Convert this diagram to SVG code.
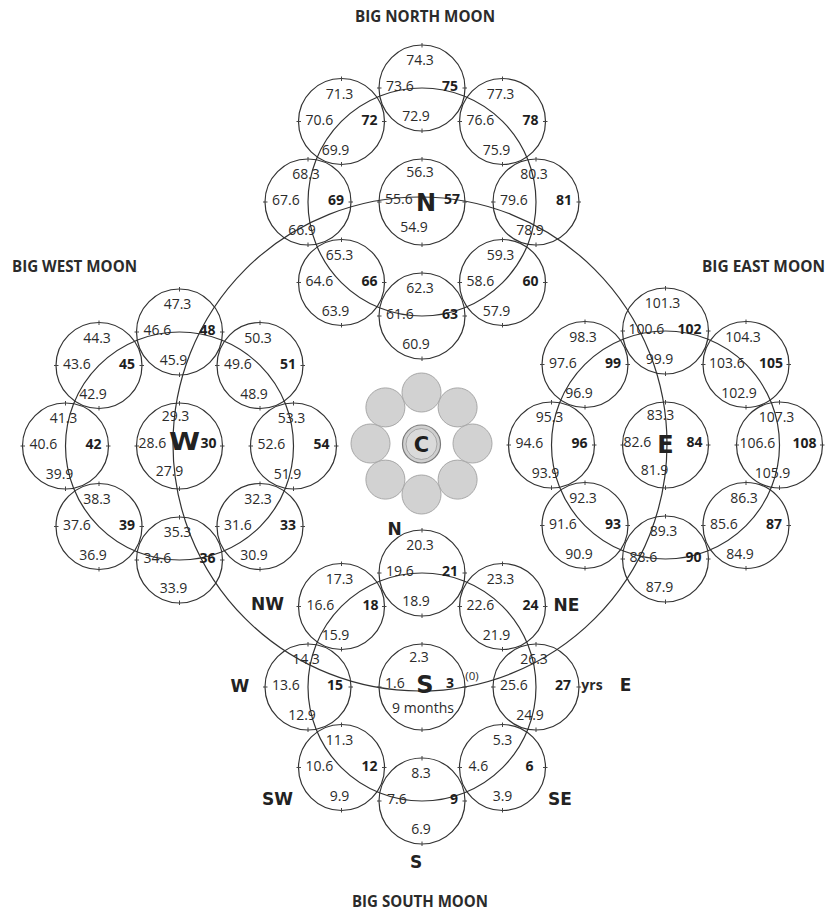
<svg xmlns="http://www.w3.org/2000/svg" xmlns:xlink="http://www.w3.org/1999/xlink" width="826" height="911" viewBox="0 0 826 911">
<style>
.c{fill:none;stroke:#333;stroke-width:1.2}
.k{fill:none;stroke:#444;stroke-width:1}
.t{font-family:"Open Sans","Liberation Sans",sans-serif;font-size:14px;fill:#2b2b2b}
.m{text-anchor:middle}
.s{text-anchor:start}
.b{text-anchor:end;font-weight:bold;fill:#1e1e1e}
.big{font-family:"DejaVu Sans",sans-serif;font-weight:bold;font-size:24px;text-anchor:middle;fill:#222}
.dir{font-family:"DejaVu Sans",sans-serif;font-weight:bold;font-size:17px;text-anchor:middle;fill:#222}
.title{font-family:"Open Sans","Liberation Sans",sans-serif;font-weight:bold;font-size:15.5px;text-anchor:middle;fill:#2b2b2b}
.g{fill:#d2d2d2;stroke:#a8a8a8;stroke-width:1}
</style>
<defs>
<g id="sc"><circle r="43" class="c"/><path class="k" d="M0,-45V-40.5M0,40.5V45M-45,0H-40.5M40.5,0H45"/></g>
</defs>
<rect width="826" height="911" fill="#fff"/>

<g id="connectors" class="c">
<circle cx="422" cy="202" r="114"/>
<circle cx="179.5" cy="446" r="114"/>
<circle cx="665.5" cy="445" r="114"/>
<circle cx="422" cy="687" r="114"/>
<circle cx="420" cy="444" r="247"/>
</g>

<g id="titles">
<text class="title" x="425" y="22" textLength="140" lengthAdjust="spacingAndGlyphs">BIG NORTH MOON</text>
<text class="title" x="74.5" y="272" textLength="125" lengthAdjust="spacingAndGlyphs">BIG WEST MOON</text>
<text class="title" x="763.5" y="272" textLength="123" lengthAdjust="spacingAndGlyphs">BIG EAST MOON</text>
<text class="title" x="420" y="907" textLength="136" lengthAdjust="spacingAndGlyphs">BIG SOUTH MOON</text>
</g>

<!-- NORTH MOON -->
<g id="n57" transform="translate(422,202)"><use xlink:href="#sc"/><text class="t m" x="-2" y="-25">56.3</text><text class="t s" x="-37" y="2">55.6</text><text class="t b" x="38" y="2">57</text><text class="t m" x="-8" y="30">54.9</text><text class="big" x="4" y="9">N</text></g>
<g id="n60" transform="translate(502.5,282.5)"><use xlink:href="#sc"/><text class="t m" x="-2" y="-23">59.3</text><text class="t s" x="-36" y="3">58.6</text><text class="t b" x="36" y="3">60</text><text class="t m" x="-6" y="33">57.9</text></g>
<g id="n63" transform="translate(422,316)"><use xlink:href="#sc"/><text class="t m" x="-2" y="-23">62.3</text><text class="t s" x="-36" y="3">61.6</text><text class="t b" x="36" y="3">63</text><text class="t m" x="-6" y="33">60.9</text></g>
<g id="n66" transform="translate(341.5,282.5)"><use xlink:href="#sc"/><text class="t m" x="-2" y="-23">65.3</text><text class="t s" x="-36" y="3">64.6</text><text class="t b" x="36" y="3">66</text><text class="t m" x="-6" y="33">63.9</text></g>
<g id="n69" transform="translate(308,202)"><use xlink:href="#sc"/><text class="t m" x="-2" y="-23">68.3</text><text class="t s" x="-36" y="3">67.6</text><text class="t b" x="36" y="3">69</text><text class="t m" x="-6" y="33">66.9</text></g>
<g id="n72" transform="translate(341.5,121.5)"><use xlink:href="#sc"/><text class="t m" x="-2" y="-23">71.3</text><text class="t s" x="-36" y="3">70.6</text><text class="t b" x="36" y="3">72</text><text class="t m" x="-6" y="33">69.9</text></g>
<g id="n75" transform="translate(422,88)"><use xlink:href="#sc"/><text class="t m" x="-2" y="-23">74.3</text><text class="t s" x="-36" y="3">73.6</text><text class="t b" x="36" y="3">75</text><text class="t m" x="-6" y="33">72.9</text></g>
<g id="n78" transform="translate(502.5,121.5)"><use xlink:href="#sc"/><text class="t m" x="-2" y="-23">77.3</text><text class="t s" x="-36" y="3">76.6</text><text class="t b" x="36" y="3">78</text><text class="t m" x="-6" y="33">75.9</text></g>
<g id="n81" transform="translate(536,202)"><use xlink:href="#sc"/><text class="t m" x="-2" y="-23">80.3</text><text class="t s" x="-36" y="3">79.6</text><text class="t b" x="36" y="3">81</text><text class="t m" x="-6" y="33">78.9</text></g>

<!-- WEST MOON -->
<g id="n30" transform="translate(179.5,446)"><use xlink:href="#sc"/><text class="t m" x="-4" y="-25">29.3</text><text class="t s" x="-41" y="2">28.6</text><text class="t b" x="37" y="2">30</text><text class="t m" x="-10" y="30">27.9</text><text class="big" x="5" y="4" textLength="31" lengthAdjust="spacingAndGlyphs">W</text></g>
<g id="n33" transform="translate(260,526.5)"><use xlink:href="#sc"/><text class="t m" x="-2" y="-23">32.3</text><text class="t s" x="-36" y="3">31.6</text><text class="t b" x="36" y="3">33</text><text class="t m" x="-6" y="33">30.9</text></g>
<g id="n36" transform="translate(179.5,560)"><use xlink:href="#sc"/><text class="t m" x="-2" y="-23">35.3</text><text class="t s" x="-36" y="3">34.6</text><text class="t b" x="36" y="3">36</text><text class="t m" x="-6" y="33">33.9</text></g>
<g id="n39" transform="translate(99,526.5)"><use xlink:href="#sc"/><text class="t m" x="-2" y="-23">38.3</text><text class="t s" x="-36" y="3">37.6</text><text class="t b" x="36" y="3">39</text><text class="t m" x="-6" y="33">36.9</text></g>
<g id="n42" transform="translate(65.5,446)"><use xlink:href="#sc"/><text class="t m" x="-2" y="-23">41.3</text><text class="t s" x="-36" y="3">40.6</text><text class="t b" x="36" y="3">42</text><text class="t m" x="-6" y="33">39.9</text></g>
<g id="n45" transform="translate(99,365.5)"><use xlink:href="#sc"/><text class="t m" x="-2" y="-23">44.3</text><text class="t s" x="-36" y="3">43.6</text><text class="t b" x="36" y="3">45</text><text class="t m" x="-6" y="33">42.9</text></g>
<g id="n48" transform="translate(179.5,332)"><use xlink:href="#sc"/><text class="t m" x="-2" y="-23">47.3</text><text class="t s" x="-36" y="3">46.6</text><text class="t b" x="36" y="3">48</text><text class="t m" x="-6" y="33">45.9</text></g>
<g id="n51" transform="translate(260,365.5)"><use xlink:href="#sc"/><text class="t m" x="-2" y="-23">50.3</text><text class="t s" x="-36" y="3">49.6</text><text class="t b" x="36" y="3">51</text><text class="t m" x="-6" y="33">48.9</text></g>
<g id="n54" transform="translate(293.5,446)"><use xlink:href="#sc"/><text class="t m" x="-2" y="-23">53.3</text><text class="t s" x="-36" y="3">52.6</text><text class="t b" x="36" y="3">54</text><text class="t m" x="-6" y="33">51.9</text></g>

<!-- EAST MOON -->
<g id="n84" transform="translate(665.5,445)"><use xlink:href="#sc"/><text class="t m" x="-5" y="-25">83.3</text><text class="t s" x="-42" y="2">82.6</text><text class="t b" x="37" y="2">84</text><text class="t m" x="-11" y="30">81.9</text><text class="big" x="0" y="8">E</text></g>
<g id="n87" transform="translate(746,525.5)"><use xlink:href="#sc"/><text class="t m" x="-2" y="-23">86.3</text><text class="t s" x="-36" y="3">85.6</text><text class="t b" x="36" y="3">87</text><text class="t m" x="-6" y="33">84.9</text></g>
<g id="n90" transform="translate(665.5,559)"><use xlink:href="#sc"/><text class="t m" x="-2" y="-23">89.3</text><text class="t s" x="-36" y="3">88.6</text><text class="t b" x="36" y="3">90</text><text class="t m" x="-6" y="33">87.9</text></g>
<g id="n93" transform="translate(585,525.5)"><use xlink:href="#sc"/><text class="t m" x="-2" y="-23">92.3</text><text class="t s" x="-36" y="3">91.6</text><text class="t b" x="36" y="3">93</text><text class="t m" x="-6" y="33">90.9</text></g>
<g id="n96" transform="translate(551.5,445)"><use xlink:href="#sc"/><text class="t m" x="-2" y="-23">95.3</text><text class="t s" x="-36" y="3">94.6</text><text class="t b" x="36" y="3">96</text><text class="t m" x="-6" y="33">93.9</text></g>
<g id="n99" transform="translate(585,364.5)"><use xlink:href="#sc"/><text class="t m" x="-2" y="-23">98.3</text><text class="t s" x="-36" y="3">97.6</text><text class="t b" x="36" y="3">99</text><text class="t m" x="-6" y="33">96.9</text></g>
<g id="n102" transform="translate(665.5,331)"><use xlink:href="#sc"/><text class="t m" x="-3" y="-23">101.3</text><text class="t s" x="-37" y="3">100.6</text><text class="t b" x="36" y="3">102</text><text class="t m" x="-6" y="33">99.9</text></g>
<g id="n105" transform="translate(746,364.5)"><use xlink:href="#sc"/><text class="t m" x="-3" y="-23">104.3</text><text class="t s" x="-37" y="3">103.6</text><text class="t b" x="37" y="3">105</text><text class="t m" x="-7" y="33">102.9</text></g>
<g id="n108" transform="translate(779.5,445)"><use xlink:href="#sc"/><text class="t m" x="-3" y="-23">107.3</text><text class="t s" x="-40" y="3">106.6</text><text class="t b" x="37" y="3">108</text><text class="t m" x="-7" y="33">105.9</text></g>

<!-- SOUTH MOON -->
<g id="n3" transform="translate(422,687)"><use xlink:href="#sc"/><text class="t m" x="-3" y="-25">2.3</text><text class="t s" x="-37" y="1">1.6</text><text class="t b" x="32" y="1">3</text><text class="t m" x="1" y="26">9 months</text><text class="big" x="3" y="6">S</text><text class="t m" x="50" y="-7" style="font-size:11.5px">(0)</text></g>
<g id="n6" transform="translate(502.5,767.5)"><use xlink:href="#sc"/><text class="t m" x="0" y="-23">5.3</text><text class="t s" x="-34" y="3">4.6</text><text class="t b" x="31" y="3">6</text><text class="t m" x="0" y="33">3.9</text></g>
<g id="n9" transform="translate(422,801)"><use xlink:href="#sc"/><text class="t m" x="-1" y="-23">8.3</text><text class="t s" x="-35" y="3">7.6</text><text class="t b" x="36" y="3">9</text><text class="t m" x="-1" y="33">6.9</text></g>
<g id="n12" transform="translate(341.5,767.5)"><use xlink:href="#sc"/><text class="t m" x="-2" y="-23">11.3</text><text class="t s" x="-36" y="3">10.6</text><text class="t b" x="36" y="3">12</text><text class="t m" x="-2" y="33">9.9</text></g>
<g id="n15" transform="translate(308,687)"><use xlink:href="#sc"/><text class="t m" x="-2" y="-23">14.3</text><text class="t s" x="-36" y="3">13.6</text><text class="t b" x="35" y="3">15</text><text class="t m" x="-6" y="33">12.9</text></g>
<g id="n18" transform="translate(341.5,606.5)"><use xlink:href="#sc"/><text class="t m" x="-2" y="-23">17.3</text><text class="t s" x="-35" y="3">16.6</text><text class="t b" x="37" y="3">18</text><text class="t m" x="-6" y="33">15.9</text></g>
<g id="n21" transform="translate(422,573)"><use xlink:href="#sc"/><text class="t m" x="-2" y="-23">20.3</text><text class="t s" x="-36" y="3">19.6</text><text class="t b" x="36" y="3">21</text><text class="t m" x="-6" y="33">18.9</text></g>
<g id="n24" transform="translate(502.5,606.5)"><use xlink:href="#sc"/><text class="t m" x="-2" y="-23">23.3</text><text class="t s" x="-36" y="3">22.6</text><text class="t b" x="36" y="3">24</text><text class="t m" x="-6" y="33">21.9</text></g>
<g id="n27" transform="translate(536,687)"><use xlink:href="#sc"/><text class="t m" x="-2" y="-23">26.3</text><text class="t s" x="-36" y="3">25.6</text><text class="t b" x="35" y="3">27</text><text class="t m" x="-6" y="33">24.9</text><text class="t m" x="56" y="3" style="font-weight:bold">yrs</text></g>

<!-- CENTRE -->
<g id="centre">
<circle class="g" cx="472.5" cy="443.5" r="19.5"/>
<circle class="g" cx="457.6" cy="479.6" r="19.5"/>
<circle class="g" cx="421.5" cy="494.5" r="19.5"/>
<circle class="g" cx="385.4" cy="479.6" r="19.5"/>
<circle class="g" cx="370.5" cy="443.5" r="19.5"/>
<circle class="g" cx="385.4" cy="407.4" r="19.5"/>
<circle class="g" cx="421.5" cy="392.5" r="19.5"/>
<circle class="g" cx="457.6" cy="407.4" r="19.5"/>
<circle cx="421.5" cy="444" r="19" fill="#cfcfcf" stroke="#7a7a7a" stroke-width="1.2"/>
<circle cx="421.5" cy="444" r="15.5" fill="#dadada" stroke="#9a9a9a" stroke-width="0.8"/>
<text class="big" x="421.5" y="452" style="font-size:21px;fill:#1e1e1e">C</text>
</g>

<g id="directions">
<text class="dir" x="394.5" y="535">N</text>
<text class="dir" x="267.5" y="610">NW</text>
<text class="dir" x="566.5" y="611">NE</text>
<text class="dir" x="240" y="692">W</text>
<text class="dir" x="625.5" y="691">E</text>
<text class="dir" x="277.5" y="805">SW</text>
<text class="dir" x="560" y="805">SE</text>
<text class="dir" x="416" y="868">S</text>
</g>
</svg>
